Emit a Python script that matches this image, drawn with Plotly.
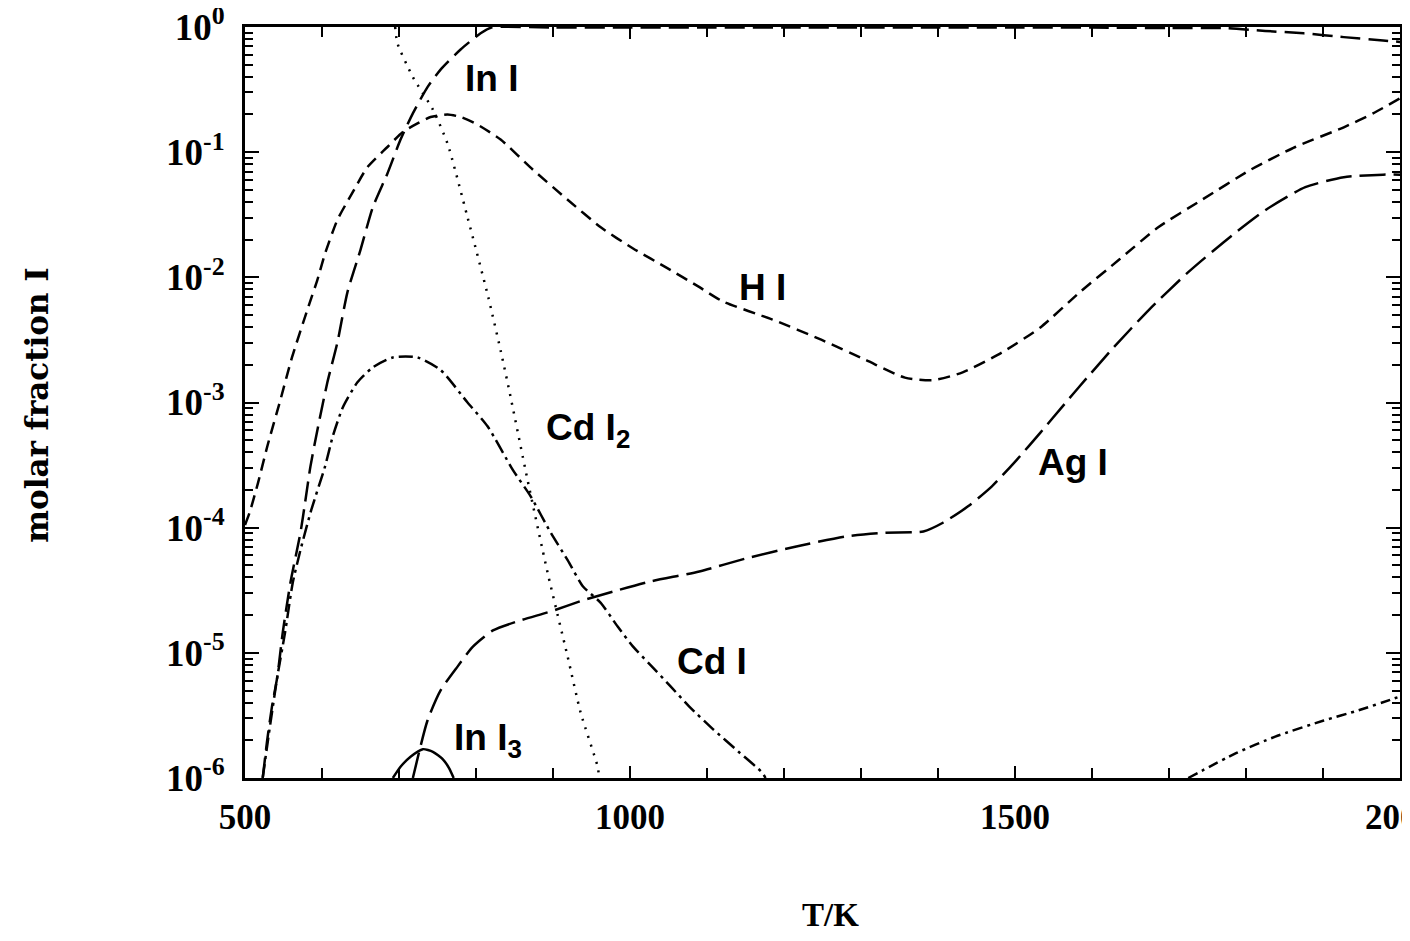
import plotly.graph_objects as go

# ---------------- data ----------------
T_HI = [500, 506, 517, 529, 546, 561, 581, 594, 604, 620, 639, 659, 685, 705, 724, 741,
        763, 780, 802, 832, 874, 919, 962, 1004, 1049, 1088, 1121, 1185, 1249, 1306, 1357,
        1394, 1432, 1483, 1533, 1584, 1635, 1686, 1743, 1806, 1864, 1927, 1965, 2000]
HI = [1.05e-4, 1.32e-4, 2.29e-4, 4.47e-4, 1.05e-3, 2.29e-3, 5.50e-3, 9.55e-3, 1.55e-2,
      2.88e-2, 4.68e-2, 7.59e-2, 0.110, 0.145, 0.170, 0.191, 0.200, 0.191, 0.166, 0.126,
      7.24e-2, 4.17e-2, 2.51e-2, 1.70e-2, 1.18e-2, 8.50e-3, 6.40e-3, 4.60e-3, 3.16e-3,
      2.19e-3, 1.58e-3, 1.51e-3, 1.74e-3, 2.51e-3, 3.98e-3, 7.59e-3, 1.38e-2, 2.51e-2,
      4.17e-2, 7.24e-2, 0.110, 0.158, 0.204, 0.269]

T_InI = [523, 529, 535, 542, 549, 559, 572, 578, 585, 595, 607, 620, 633, 650, 666, 685,
         702, 718, 737, 754, 780, 806, 820, 900, 1000, 1100, 1200, 1300, 1400, 1500, 1600,
         1700, 1775, 1825, 1875, 1927, 1978, 2000]
InI = [1.0e-6, 2.04e-6, 3.72e-6, 6.46e-6, 1.45e-5, 3.63e-5, 9.12e-5, 1.58e-4, 3.09e-4,
       6.46e-4, 1.45e-3, 3.02e-3, 7.59e-3, 1.66e-2, 3.63e-2, 6.76e-2, 0.126, 0.204, 0.331,
       0.457, 0.661, 0.891, 0.99, 0.99, 0.99, 0.99, 0.99, 0.99, 0.99, 0.99, 0.99, 0.98,
       0.98, 0.93, 0.89, 0.83, 0.78, 0.76]

T_CdI = [523, 530, 542, 552, 562, 572, 586, 604, 614, 627, 646, 666, 692, 724, 754, 789,
         815, 848, 871, 897, 919, 939, 962, 984, 1004, 1027, 1053, 1077, 1108, 1141, 1172, 1176]
CdI = [1.0e-6, 2.04e-6, 6.46e-6, 1.45e-5, 3.63e-5, 6.61e-5, 1.38e-4, 3.09e-4, 5.37e-4,
       9.12e-4, 1.45e-3, 1.91e-3, 2.29e-3, 2.29e-3, 1.82e-3, 1.0e-3, 6.46e-4, 2.88e-4,
       1.78e-4, 9.12e-5, 5.50e-5, 3.39e-5, 2.51e-5, 1.62e-5, 1.12e-5, 7.94e-6, 5.37e-6,
       3.72e-6, 2.45e-6, 1.62e-6, 1.10e-6, 1.0e-6]

T_CdI2 = [695, 698, 718, 744, 763, 789, 816, 834, 845, 867, 893, 919, 936, 958, 960]
CdI2 = [1.0, 0.741, 0.398, 0.219, 0.117, 3.02e-2, 6.92e-3, 2.29e-3, 1.10e-3, 2.40e-4,
        4.37e-5, 9.33e-6, 3.31e-6, 1.23e-6, 1.0e-6]

T_AgI = [718, 737, 754, 776, 796, 822, 858, 897, 939, 984, 1027, 1090, 1154, 1216, 1280,
         1331, 1381, 1407, 1439, 1470, 1502, 1533, 1566, 1584, 1628, 1674, 1725, 1775,
         1826, 1877, 1927, 1978, 2000]
AgI = [1.0e-6, 2.88e-6, 5.01e-6, 7.76e-6, 1.12e-5, 1.51e-5, 1.82e-5, 2.14e-5, 2.63e-5,
       3.16e-5, 3.72e-5, 4.47e-5, 5.75e-5, 7.08e-5, 8.51e-5, 9.12e-5, 9.33e-5, 1.10e-4,
       1.48e-4, 2.14e-4, 3.47e-4, 5.75e-4, 1.0e-3, 1.35e-3, 2.75e-3, 5.50e-3, 1.10e-2,
       2.0e-2, 3.47e-2, 5.25e-2, 6.31e-2, 6.61e-2, 6.61e-2]

T_InI3 = [692, 702, 715, 731, 744, 757, 765, 771]
InI3 = [1.0e-6, 1.23e-6, 1.48e-6, 1.70e-6, 1.62e-6, 1.41e-6, 1.20e-6, 1.0e-6]

T_minor = [1725, 1787, 1838, 1901, 1946, 1990, 2000]
minor_species = [1.0e-6, 1.58e-6, 2.14e-6, 2.88e-6, 3.47e-6, 4.27e-6, 4.47e-6]

x_tick_vals = [500, 1000, 1500, 2000]
x_tick_text = ["500", "1000", "1500", "2000"]
y_tick_vals = [1, 1e-1, 1e-2, 1e-3, 1e-4, 1e-5, 1e-6]
y_tick_text = ["10<sup>0</sup>", "10<sup>-1</sup>", "10<sup>-2</sup>", "10<sup>-3</sup>",
               "10<sup>-4</sup>", "10<sup>-5</sup>", "10<sup>-6</sup>"]

# curve labels: (text, T, log10 y)
labels = [("In I", 820, -0.41), ("H I", 1172, -2.08), ("Cd I<sub>2</sub>", 945, -3.22),
          ("Ag I", 1575, -3.48), ("Cd I", 1107, -5.07), ("In I<sub>3</sub>", 815, -5.70)]

# ---------------- figure ----------------
fig = go.Figure()
LW = 2.5
series = [
    ("HI", T_HI, HI, "12px,7px"),
    ("InI", T_InI, InI, "20px,8px"),
    ("CdI", T_CdI, CdI, "14px,5px,3px,5px"),
    ("CdI2", T_CdI2, CdI2, "2px,7px"),
    ("AgI", T_AgI, AgI, "26px,8px"),
    ("InI3", T_InI3, InI3, "solid"),
    ("unlabelled", T_minor, minor_species, "10px,5px,3px,5px"),
]
for name, xs, ys, dash in series:
    fig.add_trace(go.Scatter(x=xs, y=ys, mode="lines", name=name,
                             line=dict(color="black", width=LW, dash=dash,
                                       shape="spline", smoothing=0.6)))

for txt, tx, ly in labels:
    fig.add_annotation(x=tx, y=ly, xref="x", yref="y", text=txt, showarrow=False,
                       font=dict(family="Liberation Sans", size=37, color="black",
                                 weight="bold"))

serif = "Liberation Serif"
fig.add_annotation(x=0.507, y=-0.182, xref="paper", yref="paper", text="T/K",
                   xanchor="center", yanchor="middle",
                   showarrow=False, font=dict(family=serif, size=33, color="black",
                                              weight="bold"))
fig.add_annotation(x=-0.180, y=0.497, xref="paper", yref="paper", text="molar fraction I",
                   textangle=-90, xanchor="center", yanchor="middle", showarrow=False,
                   font=dict(family="DejaVu Serif", size=31, color="black", weight="bold"))

y_minor = [m * 10.0 ** k for k in range(-6, 0) for m in range(2, 10)]

fig.update_xaxes(range=[500, 2000], tickmode="array", tickvals=x_tick_vals,
                 ticktext=x_tick_text, ticks="inside", ticklen=12, tickwidth=2,
                 tickcolor="black", showline=True, linecolor="black", linewidth=3,
                 mirror="allticks", showgrid=False, zeroline=False, automargin=False,
                 ticklabelstandoff=6, ticklabeloverflow="allow",
                 tickfont=dict(family=serif, size=35, color="black", weight="bold"),
                 minor=dict(dtick=100, ticks="inside", ticklen=10, tickwidth=2,
                            tickcolor="black", showgrid=False))
fig.update_yaxes(type="log", range=[-6, 0], tickmode="array", tickvals=y_tick_vals,
                 ticktext=y_tick_text, ticks="inside", ticklen=14, tickwidth=2,
                 tickcolor="black", showline=True, linecolor="black", linewidth=3,
                 mirror="allticks", showgrid=False, zeroline=False, automargin=False,
                 ticklabelstandoff=10, ticklabeloverflow="allow",
                 tickfont=dict(family=serif, size=37, color="black", weight="bold"),
                 minor=dict(tickmode="array", tickvals=y_minor, ticks="inside", ticklen=8,
                            tickwidth=2, tickcolor="black", showgrid=False))

# page body has an 8px margin: shrink the figure and shift margins to compensate
fig.update_layout(width=1402, height=933, margin=dict(l=237, r=10, t=19, b=163),
                  paper_bgcolor="white", plot_bgcolor="white", showlegend=False)

fig.write_html("out.html")
